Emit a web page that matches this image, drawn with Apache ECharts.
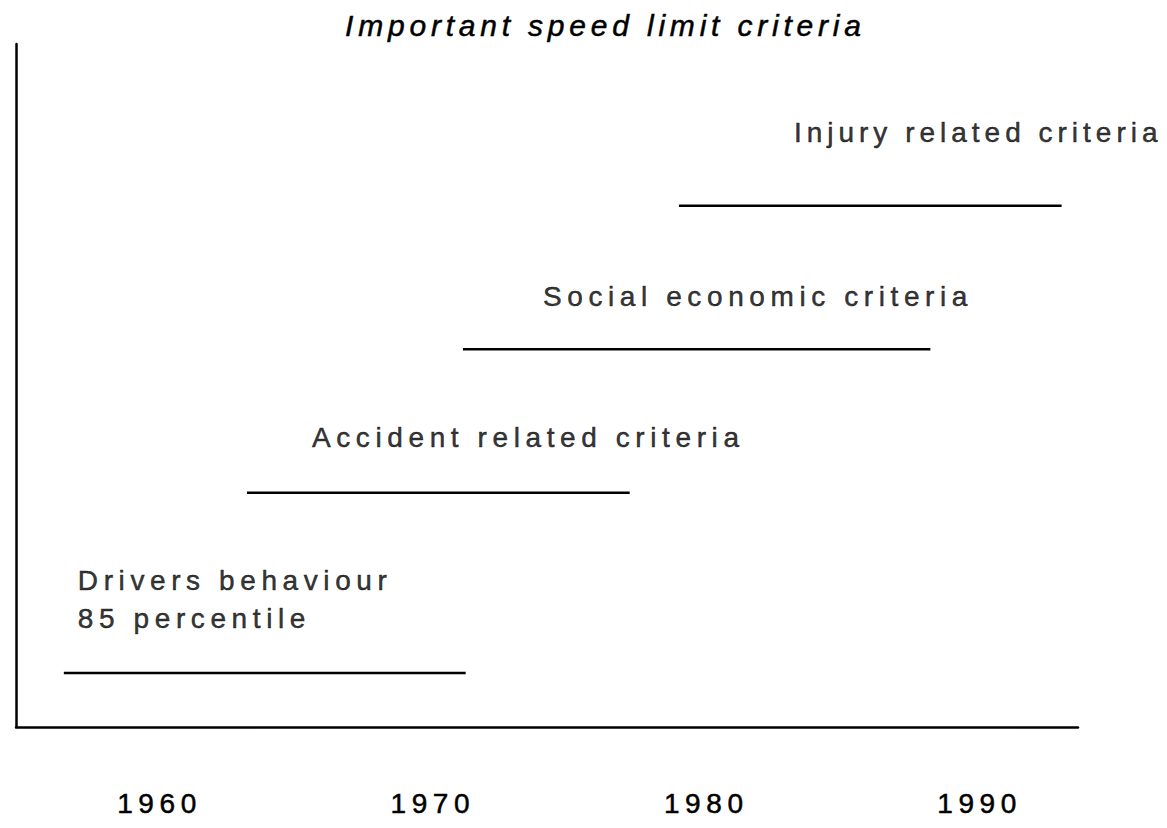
<!DOCTYPE html>
<html>
<head>
<meta charset="utf-8">
<script src="https://cdn.jsdelivr.net/npm/echarts@6/dist/echarts.min.js"></script>
<style>
  html, body { margin: 0; padding: 0; background: #fff; }
  #main { width: 1167px; height: 828px; }
  #main text { letter-spacing: 5.6px; }
  #main text[style*="italic"] { letter-spacing: 4.8px; }
  #main text[style*="Arimo"] { letter-spacing: 5px; }
</style>
</head>
<body>
<div id="main"></div>
<script>
// ---- data ----
const titleText = 'Important speed limit criteria';
const criteria = ['Drivers behaviour\n85 percentile', 'Accident related criteria', 'Social economic criteria', 'Injury related criteria'];
const startYears = [1956.5, 1963.2, 1971.1, 1979.0];
const endYears = [1971.2, 1977.2, 1988.2, 1993.0];
const levels = [7.9, 34.3, 55.3, 76.3];
const tickYears = [1960, 1970, 1980, 1990];

// ---- styles (pixel offsets of each text from its line start) ----
const labelOffsets = [[14, -74], [65, -55], [80, -53], [115, -73]];
const labelFonts = ['Liberation Sans', 'Liberation Sans', 'Liberation Sans', 'Liberation Sans, Arimo'];
const ink = { color: '#000', textBorderColor: '#000', textBorderWidth: 0.5 };

const chart = echarts.init(document.getElementById('main'), null, { renderer: 'svg' });

const lineSeries = criteria.map((name, i) => ({
  type: 'line',
  name: name,
  data: [[startYears[i], levels[i]], [endYears[i], levels[i]]],
  symbol: 'none',
  silent: true,
  lineStyle: { color: '#000', width: 2.5 }
}));

const labelSeries = {
  type: 'scatter',
  silent: true,
  symbolSize: 1,
  itemStyle: { color: 'rgba(0,0,0,0)' },
  data: criteria.map((name, i) => ({
    value: [startYears[i], levels[i]],
    label: Object.assign({
      show: true,
      formatter: name,
      position: 'inside',
      align: 'left',
      verticalAlign: 'middle',
      offset: labelOffsets[i],
      fontFamily: labelFonts[i],
      fontSize: 28,
      lineHeight: 38
    }, ink)
  }))
};

chart.setOption({
  animation: false,
  backgroundColor: '#fff',
  title: {
    text: titleText,
    left: 340,
    top: 5,
    textStyle: Object.assign({
      fontFamily: 'Liberation Sans',
      fontStyle: 'italic',
      fontWeight: 'normal',
      fontSize: 30
    }, ink)
  },
  grid: { left: 16, right: 89, top: 44, bottom: 101 },
  xAxis: {
    type: 'value',
    min: 1954.75,
    max: 1993.6,
    axisLine: { show: true, onZero: false, lineStyle: { color: '#000', width: 2.5 } },
    axisTick: { show: false },
    splitLine: { show: false },
    axisLabel: Object.assign({
      customValues: tickYears,
      margin: 62,
      fontFamily: 'Liberation Sans',
      fontSize: 28,
      formatter: v => String(v)
    }, ink)
  },
  yAxis: {
    type: 'value',
    min: 0,
    max: 100,
    axisLine: { show: true, onZero: false, lineStyle: { color: '#000', width: 2.5 } },
    axisTick: { show: false },
    axisLabel: { show: false },
    splitLine: { show: false }
  },
  series: lineSeries.concat([labelSeries])
});
</script>
</body>
</html>
